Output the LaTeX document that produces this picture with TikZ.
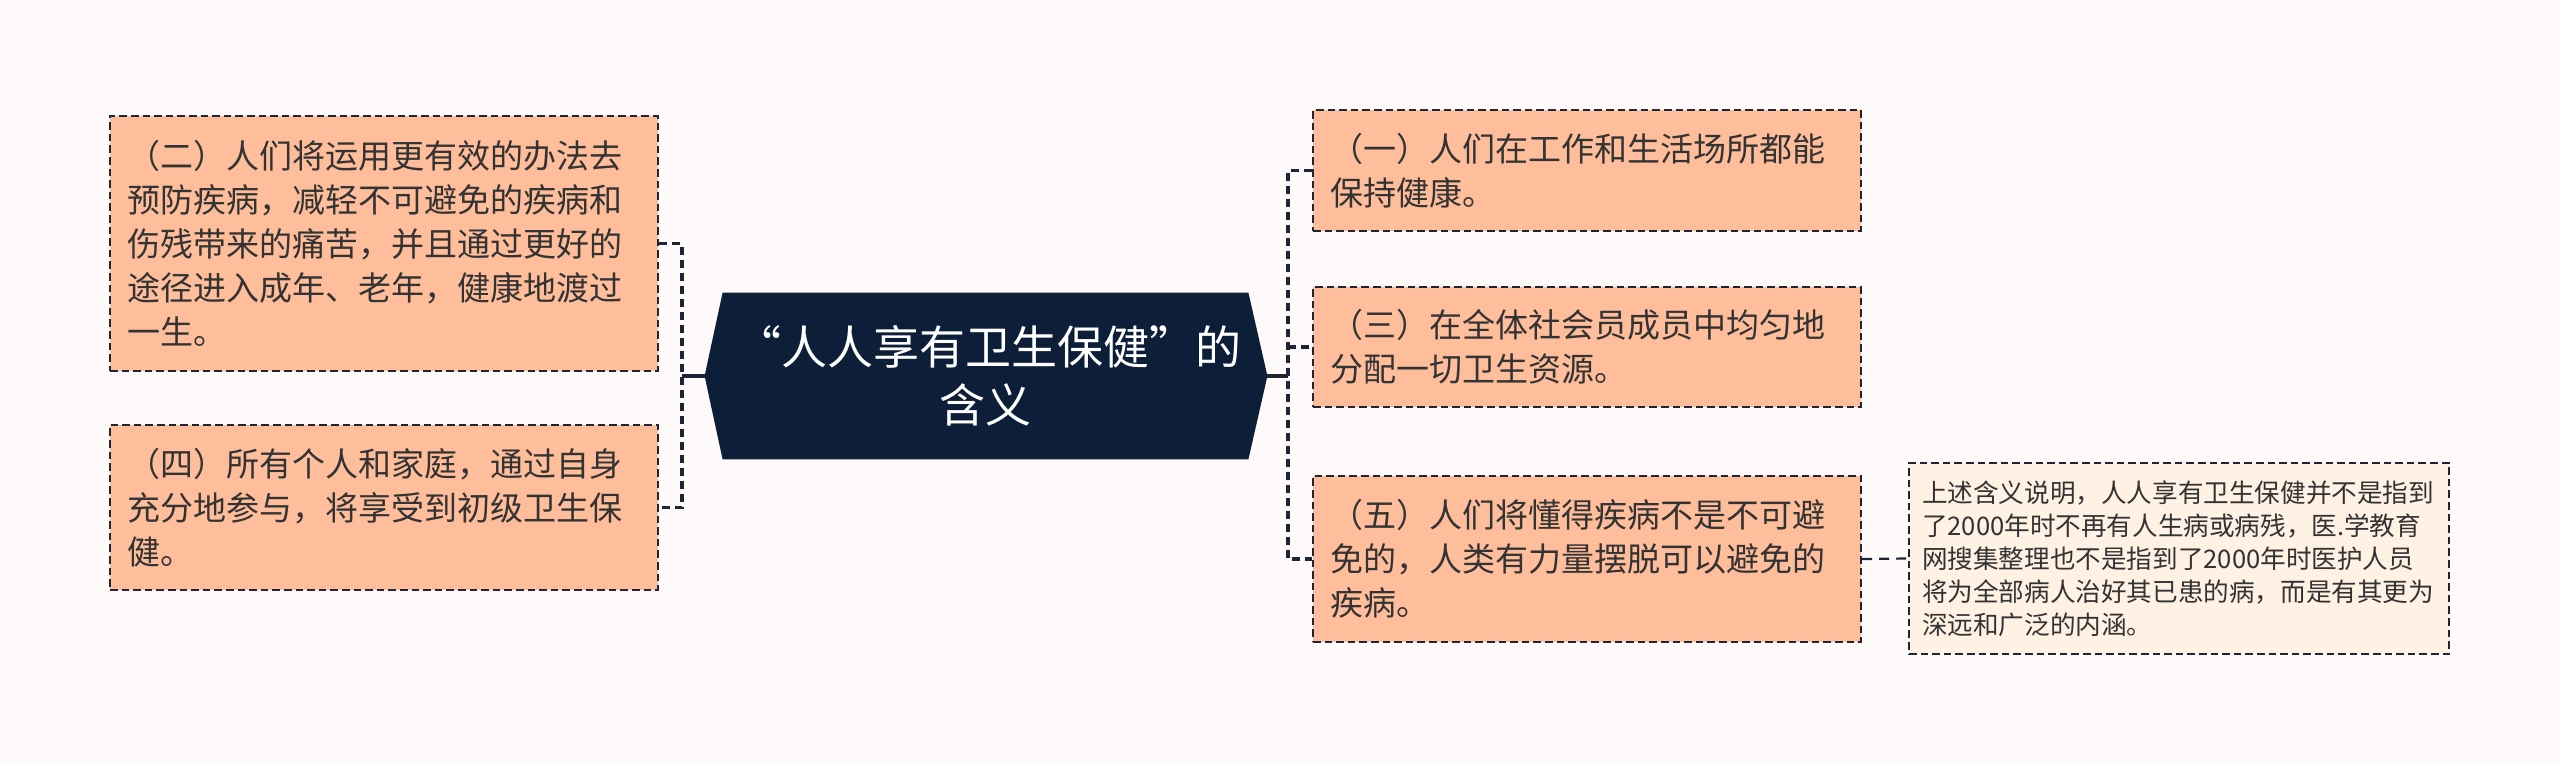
\documentclass[tikz,border=0pt]{standalone}
\usepackage{fontspec}
\setmainfont{Noto Sans CJK SC}
\usepackage{tikz}
\usetikzlibrary{backgrounds}
\definecolor{pagebg}{HTML}{FDFAF9}
\definecolor{navy}{HTML}{0D1F38}
\definecolor{inkline}{HTML}{1E2636}
\definecolor{salmon}{HTML}{FFBE9B}
\definecolor{cream}{HTML}{FFF1E3}
\definecolor{inktext}{HTML}{333333}
\tikzset{topicbox/.style={draw=inkline,line width=1.1pt,dash pattern=on 3.8pt off 2pt,fill=salmon,text=inktext,rectangle,minimum width=274pt,text width=257pt,inner xsep=8.5pt,align=left,font=\fontsize{16.5pt}{22pt}\selectfont},
    notebox/.style={topicbox,fill=cream,minimum width=270pt,text width=257pt,inner xsep=6.5pt,font=\fontsize{12.8pt}{16.5pt}\selectfont},
    rootbox/.style={rectangle,minimum width=262.5pt,minimum height=83pt,text width=250pt,align=center,text=white,font=\fontsize{23pt}{29pt}\selectfont},
    linky/.style={draw=inkline,line width=1.6pt,dash pattern=on 4pt off 2.5pt},
    notelinky/.style={draw=inkline,line width=1.1pt,dash pattern=on 5pt off 3.5pt},
    stemline/.style={draw=inkline,line width=1.6pt}}

\begin{document}
\begin{tikzpicture}[x=0.5pt,y=-0.5pt]

\useasboundingbox (0,0) rectangle (2560,765);

\node (root) [rootbox] at (985.5,376) {“人人享有卫生保健”的\\含义};

\node (l 1) [topicbox,minimum height=127.5pt] at (384,243.5) {（二）人们将运用更有效的办法去\\预防疾病，减轻不可避免的疾病和\\伤残带来的痛苦，并且通过更好的\\途径进入成年、老年，健康地渡过\\一生。};
\node (l 2) [topicbox,minimum height=82.5pt] at (384,507.5) {（四）所有个人和家庭，通过自身\\充分地参与，将享受到初级卫生保\\健。};

\node (r 1) [topicbox,minimum height=60.5pt] at (1587,170.5) {（一）人们在工作和生活场所都能\\保持健康。};
\node (r 2) [topicbox,minimum height=60pt] at (1587,347) {（三）在全体社会员成员中均匀地\\分配一切卫生资源。};
\node (r 3) [topicbox,minimum height=83pt] at (1587,559) {（五）人们将懂得疾病不是不可避\\免的，人类有力量摆脱可以避免的\\疾病。};

\node (note) [notebox,minimum height=95.5pt] at (2179,558.5) {上述含义说明，人人享有卫生保健并不是指到\\了2000年时不再有人生病或病残，医.学教育\\网搜集整理也不是指到了2000年时医护人员\\将为全部病人治好其已患的病，而是有其更为\\深远和广泛的内涵。};

\coordinate (lhub) at (682,376);
\coordinate (rhub) at (1288,376);

\begin{scope}[on background layer]
\fill[pagebg] (0,0) rectangle (2560,765);
\fill[navy] (root.north west) -- (root.north east) -- ([xshift=9.5pt]root.east) -- (root.south east) -- (root.south west) -- ([xshift=-9pt]root.west) -- cycle;
\end{scope}

\draw [stemline] ([xshift=-9pt]root.west) -- (lhub);
\draw [linky] (l 1.east) -| (lhub) |- (l 2.east);

\draw [stemline] ([xshift=9.5pt]root.east) -- (rhub);
\draw [linky] (r 1.west) -| (rhub) |- (r 3.west);
\draw [linky] (rhub |- r 2.west) -- (r 2.west);

\draw [notelinky] (r 3.east) -- (note.west);

\end{tikzpicture}
\end{document}
